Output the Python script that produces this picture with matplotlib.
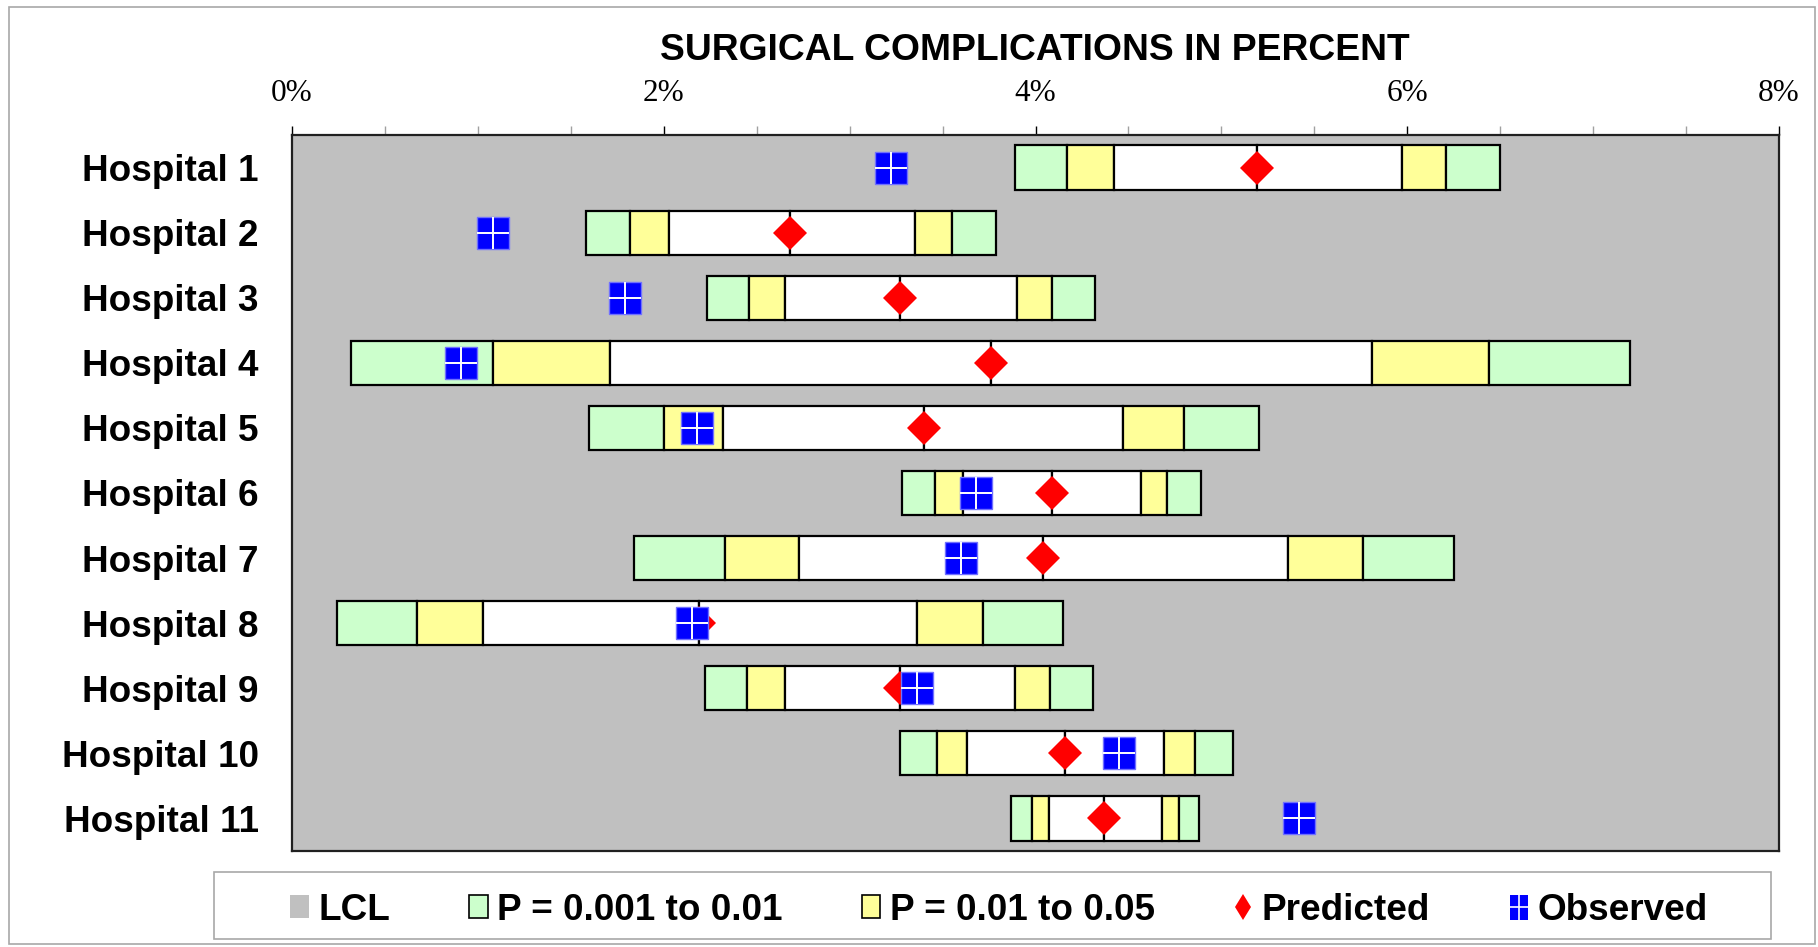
import matplotlib
matplotlib.use('Agg')
import matplotlib.pyplot as plt
from matplotlib.lines import Line2D
from matplotlib.patches import Patch, Rectangle
from matplotlib.ticker import MultipleLocator
import numpy as np

plt.rcParams['font.family'] = ['Liberation Sans', 'DejaVu Sans']

# categories
hospitals = ['Hospital 1', 'Hospital 2', 'Hospital 3', 'Hospital 4',
             'Hospital 5', 'Hospital 6', 'Hospital 7', 'Hospital 8',
             'Hospital 9', 'Hospital 10', 'Hospital 11']

# control limits in percent
lcl_999 = np.array([3.89, 1.58, 2.23, 0.32, 1.60, 3.28, 1.84, 0.24, 2.22, 3.27, 3.87])
lcl_99 = np.array([4.17, 1.82, 2.46, 1.08, 2.00, 3.46, 2.33, 0.67, 2.45, 3.47, 3.98])
lcl_95 = np.array([4.42, 2.03, 2.65, 1.71, 2.32, 3.61, 2.73, 1.03, 2.65, 3.63, 4.07])
predicted = np.array([5.19, 2.68, 3.27, 3.76, 3.40, 4.09, 4.04, 2.19, 3.27, 4.16, 4.37])
ucl_95 = np.array([5.97, 3.35, 3.90, 5.81, 4.47, 4.57, 5.36, 3.36, 3.89, 4.69, 4.68])
ucl_99 = np.array([6.21, 3.55, 4.09, 6.44, 4.80, 4.71, 5.76, 3.72, 4.08, 4.86, 4.77])
ucl_999 = np.array([6.50, 3.79, 4.32, 7.20, 5.20, 4.89, 6.25, 4.15, 4.31, 5.06, 4.88])
observed = np.array([3.22, 1.08, 1.79, 0.91, 2.18, 3.68, 3.60, 2.15, 3.36, 4.45, 5.42])

x_ticks = [0, 2, 4, 6, 8]

GRAY = '#C0C0C0'
GREEN = '#CCFFCC'
YELLOW = '#FFFF99'
RED = '#FF0000'
BLUE = '#0000FF'

W, H = 1818, 947
fig = plt.figure(figsize=(W / 100, H / 100), dpi=100)
ax = fig.add_axes([292 / W, 1 - 851 / H, (1779 - 292) / W, (851 - 135) / H])
ax.set_facecolor(GRAY)

y = np.arange(len(hospitals))
bh = 0.68
kw = dict(height=bh, edgecolor='black', linewidth=1.6, zorder=2)
ax.barh(y, lcl_999, left=0, height=bh, color=GRAY, linewidth=0, zorder=1)
ax.barh(y, lcl_99 - lcl_999, left=lcl_999, color=GREEN, **kw)
ax.barh(y, lcl_95 - lcl_99, left=lcl_99, color=YELLOW, **kw)
ax.barh(y, predicted - lcl_95, left=lcl_95, color='white', **kw)
ax.barh(y, ucl_95 - predicted, left=predicted, color='white', **kw)
ax.barh(y, ucl_99 - ucl_95, left=ucl_95, color=YELLOW, **kw)
ax.barh(y, ucl_999 - ucl_99, left=ucl_99, color=GREEN, **kw)

# predicted diamonds, observed squares on top
ax.plot(predicted, y, 'D', color=RED, ms=17.3, mew=0, zorder=3)
ax.plot(observed, y, 's', color=BLUE, ms=23.6, mec='#7070FF', mew=1, zorder=4)
ax.plot(observed, y, '+', color='white', ms=23.6, mew=1.4, zorder=5)

ax.set_xlim(0, 8)
ax.set_ylim(len(hospitals) - 0.5, -0.5)
ax.xaxis.tick_top()
ax.set_xticks(x_ticks)
ax.set_xticklabels([f'{v}%' for v in x_ticks], family=['Liberation Serif', 'DejaVu Serif'],
                   fontsize=22.5)
ax.xaxis.set_minor_locator(MultipleLocator(0.5))
ax.tick_params(axis='x', which='major', length=6.5, width=1, color='black', pad=13)
ax.tick_params(axis='x', which='minor', length=6.5, width=1, color='#A0A0A0')
ax.set_yticks(y)
ax.set_yticklabels(hospitals, fontsize=26.6, fontweight='bold')
ax.tick_params(axis='y', length=0, pad=24)
for s in ax.spines.values():
    s.set_linewidth(1.6)
    s.set_color('#202020')

fig.text(1035 / W, 1 - 51 / H, 'SURGICAL COMPLICATIONS IN PERCENT',
         ha='center', va='center', fontsize=26.8, fontweight='bold')

# outer chart border
fig.patches.append(Rectangle((9 / W, 3 / H), (1815 - 9) / W, (940 - 3) / H,
                             transform=fig.transFigure, fill=False,
                             edgecolor='#A8A8A8', linewidth=1.2))

# legend box
fig.patches.append(Rectangle((214 / W, 1 - 939 / H), (1771 - 214) / W, (939 - 872) / H,
                             transform=fig.transFigure, fill=False,
                             edgecolor='#A8A8A8', linewidth=1.2))

rect = [(-0.37, -0.5), (0.37, -0.5), (0.37, 0.5), (-0.37, 0.5)]
handles = [
    Patch(facecolor=GRAY, edgecolor='none'),
    Patch(facecolor=GREEN, edgecolor='black', linewidth=1.2),
    Patch(facecolor=YELLOW, edgecolor='black', linewidth=1.2),
    Line2D([], [], ls='none', marker='d', color=RED, ms=13, mew=0),
    (Line2D([], [], ls='none', marker=rect, color=BLUE, ms=18, mew=0),
     Line2D([], [], ls='none', marker='_', color='white', ms=13, mew=1.2),
     Line2D([], [], ls='none', marker='|', color='white', ms=18, mew=1.2)),
]
labels = ['LCL', 'P = 0.001 to 0.01', 'P = 0.01 to 0.05', 'Predicted', 'Observed']
fig.legend(handles, labels, loc='center', bbox_to_anchor=(999 / W, 1 - 910 / H),
           ncol=5, frameon=False, prop=dict(size=26.6, weight='bold'),
           handlelength=0.5, handleheight=0.55, handletextpad=0.25,
           columnspacing=2.15, borderpad=0)

fig.savefig('out.png', dpi=100)
